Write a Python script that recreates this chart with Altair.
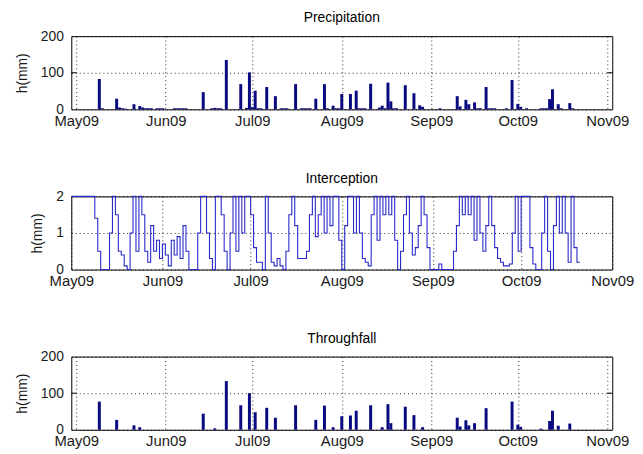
import altair as alt
import pandas as pd

START = "2009-05-01"
month_starts = ["2009-05-01", "2009-06-01", "2009-07-01", "2009-08-01",
                "2009-09-01", "2009-10-01", "2009-11-01"]
month_labels = ["May09", "Jun09", "Jul09", "Aug09", "Sep09", "Oct09", "Nov09"]

precip_dates = ["05-09", "05-10", "05-15", "05-16", "05-17", "05-18", "05-21", "05-23", "05-24",
                "05-25", "05-26", "05-27", "05-29", "05-30", "05-31", "06-04", "06-05", "06-06",
                "06-07", "06-08", "06-14", "06-17", "06-18", "06-19", "06-20", "06-22", "06-27",
                "06-29", "06-30", "07-01", "07-02", "07-03", "07-04", "07-06", "07-09", "07-11",
                "07-12", "07-13", "07-16", "07-18", "07-19", "07-20", "07-21", "07-23", "07-26",
                "07-27", "07-29", "07-30", "07-31", "08-01", "08-04", "08-06", "08-07", "08-08",
                "08-09", "08-11", "08-14", "08-15", "08-16", "08-17", "08-18", "08-19", "08-20",
                "08-23", "08-26", "08-28", "08-29", "09-04", "09-10", "09-11", "09-13", "09-14",
                "09-16", "09-17", "09-18", "09-20", "09-21", "09-22", "09-23", "09-27", "09-29",
                "10-01", "10-02", "10-04", "10-09", "10-10", "10-11", "10-12", "10-13", "10-15",
                "10-16", "10-19", "10-20"]
precip_mm = [83, 3, 29, 5, 3, 2, 14, 9, 5,
             3, 3, 3, 3, 3, 3, 3, 3, 3,
             3, 3, 47, 3, 4, 3, 3, 135, 69,
             4, 101, 6, 51, 3, 3, 61, 36, 3,
             3, 3, 69, 3, 3, 3, 3, 29, 69,
             3, 10, 3, 3, 42, 42, 51, 3, 3,
             3, 70, 5, 10, 3, 73, 22, 3, 3,
             66, 44, 11, 7, 3, 36, 8, 26, 14,
             19, 3, 3, 61, 3, 3, 3, 3, 80,
             15, 7, 3, 3, 3, 3, 28, 55, 14,
             3, 17, 3]

through_dates = ["05-09", "05-15", "05-21", "05-23", "06-14", "06-18", "06-22", "06-27", "06-30",
                 "07-02", "07-06", "07-09", "07-16", "07-23", "07-26", "07-29", "08-01", "08-04",
                 "08-06", "08-11", "08-15", "08-17", "08-18", "08-23", "08-26", "08-29", "09-10",
                 "09-11", "09-13", "09-14", "09-16", "09-20", "09-29", "10-01", "10-02", "10-09",
                 "10-12", "10-13", "10-15", "10-19"]
through_mm = [77, 27, 12, 7, 44, 4, 133, 67, 100,
              48, 60, 33, 67, 27, 66, 7, 37, 39,
              52, 67, 7, 70, 18, 63, 40, 7, 33,
              9, 26, 12, 18, 59, 77, 14, 8, 3,
              24, 52, 11, 17]

# daily interception storage (mm), one value per day from START
intercept_mm = [2, 2, 2, 2, 2, 2, 2, 2, 1.4, 0.5,
                0, 0, 0, 1.0, 2, 1.5, 0.5, 0.4, 0.1, 0,
                1.0, 2, 0.5, 2, 1.5, 0.5, 0.2, 1.2, 0.5, 0.8,
                0.3, 0.7, 0.4, 0.1, 0.8, 0.4, 0.9, 0.3, 1.2, 0.5,
                0, 0, 0, 1.0, 2, 2, 1.0, 0.3, 0, 2,
                2, 1.5, 0.5, 0, 1.0, 2, 0.5, 2, 1.0, 2,
                2, 1.5, 0.6, 0.2, 0.2, 0, 2, 1.0, 0.2, 0.1,
                0.3, 0.1, 0, 0.5, 1.5, 2, 1.2, 0.3, 0.3, 0.3,
                0.5, 1.5, 2, 0.9, 1.5, 2, 1.0, 2, 1.2, 2,
                2, 0.8, 0, 1.2, 2, 2, 1.0, 2, 1.0, 0.3,
                0.2, 0.1, 1.5, 2, 0.8, 2, 1.5, 2, 1.5, 2,
                0.8, 0, 0.5, 1.5, 2, 1.0, 0.4, 0.6, 1.2, 2,
                1.5, 0.6, 0, 0, 0, 0.15, 0, 0, 0, 0,
                0.5, 1.2, 2, 1.5, 2, 1.5, 2, 0.8, 2, 1.0,
                0.5, 1.2, 2, 1.2, 0.6, 0.3, 0.2, 0.1, 0.1, 0.15,
                1.0, 2, 0.5, 2, 2, 2, 0.6, 0.15, 0, 0,
                1.0, 2, 0.5, 0, 1.2, 2, 1.0, 2, 1.0, 0.2,
                2, 0.6, 0.2, 0.2]

W, H = 547, 74
FONT = "Liberation Sans"
BAR_COLOR = "#0a0a80"
LINE_COLOR = "#2929c8"

t0 = pd.Timestamp(START)
month_days = [int((pd.Timestamp(d) - t0).days) for d in month_starts]
label_expr = ("[" + ",".join(f"'{l}'" for l in month_labels) + "][indexof(["
              + ",".join(str(d) for d in month_days) + "], datum.value)]")


def day_index(dates):
    return [int((pd.Timestamp("2009-" + d) - t0).days) for d in dates]


x_enc = alt.X("day:Q",
              scale=alt.Scale(domain=[month_days[0], month_days[-1]], nice=False, zero=False),
              axis=alt.Axis(values=month_days, labelExpr=label_expr, title=None,
                            labelFlush=False))


def y_enc(top, vals):
    return alt.Y("mm:Q", scale=alt.Scale(domain=[0, top], nice=False),
                 axis=alt.Axis(values=vals, title="h(mm)", format="d", tickCount=10))


def tick_rules(mid, yfield):
    df = pd.DataFrame({"mm": mid})
    left = alt.Chart(df).mark_rule(color="black", strokeWidth=1).encode(
        y=yfield, x=alt.value(0), x2=alt.value(5))
    right = alt.Chart(df).mark_rule(color="black", strokeWidth=1).encode(
        y=yfield, x=alt.value(W - 5), x2=alt.value(W))
    return [left, right]


def make_title(text):
    return alt.TitleParams(text, fontSize=14, fontWeight="normal", font=FONT,
                           offset=4, color="black")


def bar_panel(title, dates, values):
    df = pd.DataFrame({"day": day_index(dates), "mm": values})
    yy = y_enc(200, [0, 100, 200])
    bars = alt.Chart(df).mark_bar(size=3, color=BAR_COLOR).encode(x=x_enc, y=yy)
    return alt.layer(bars, *tick_rules([100], yy)).properties(
        width=W, height=H, title=make_title(title))


# interception panel: single (non-layered) chart so the mid tick is kept
df_i = pd.DataFrame({"day": list(range(len(intercept_mm))), "mm": intercept_mm})
p2 = alt.Chart(df_i).mark_line(interpolate="step-after", color=LINE_COLOR,
                               strokeWidth=1.1).encode(
    x=x_enc,
    y=alt.Y("mm:Q", scale=alt.Scale(domain=[0, 2], nice=False),
            axis=alt.Axis(values=[0, 1, 2], title="h(mm)",
                          labelExpr="format(datum.value, 'd')")),
).properties(width=W, height=H, title=make_title("Interception"))

p1 = bar_panel("Precipitation", precip_dates, precip_mm)
p3 = bar_panel("Throughfall", through_dates, through_mm)

chart = alt.vconcat(p1, p2, p3, spacing=88, bounds="flush").properties(
    padding={"left": 7, "top": 0, "right": 0, "bottom": 0}
).configure_view(
    stroke="black", strokeWidth=1
).configure_axis(
    grid=True, gridDash=[1, 3], gridColor="black", gridOpacity=0.85, gridWidth=1,
    domain=False, ticks=False,
    labelFont=FONT, labelColor="#1a1a1a",
    titleFont=FONT, titleFontSize=14, titleFontWeight="normal", titleColor="#1a1a1a",
    titlePadding=11,
).configure_axisX(labelPadding=4, labelFontSize=15).configure_axisY(
    labelPadding=8, labelFontSize=14)

chart.save("out.html", embed_options={"renderer": "svg", "actions": False})
